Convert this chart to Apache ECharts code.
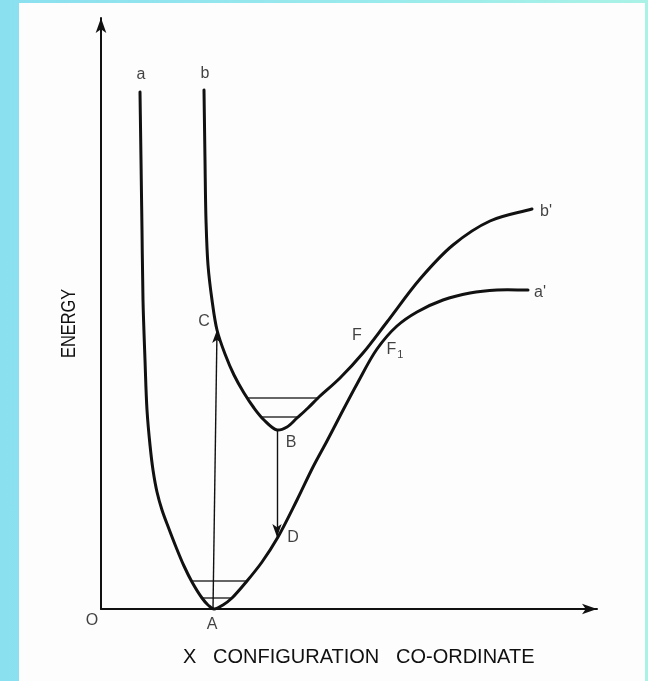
<!DOCTYPE html>
<html>
<head>
<meta charset="utf-8">
<script src="https://cdn.jsdelivr.net/npm/echarts@6/dist/echarts.min.js"></script>
<style>
  html, body { margin: 0; padding: 0; }
  body {
    width: 648px; height: 681px; position: relative; overflow: hidden;
    background: linear-gradient(90deg, #8be0f0 0%, #9aebec 60%, #aaf2e6 100%);
  }
  #paper { position: absolute; left: 19px; top: 3px; width: 626px; height: 678px; background: #fdfdfd; }
  #chart { position: absolute; left: 0; top: 0; width: 648px; height: 681px; }
</style>
</head>
<body>
<div id="paper"></div>
<div id="chart"></div>
<script>
// Potential-energy curves against configuration co-ordinate (arbitrary units).
// Ground state curve a -> a'
const groundX = [39, 40, 41, 42, 44, 46, 49, 52, 56, 61, 68, 75, 83, 91, 101, 107, 113, 122, 131, 146, 161, 177, 196, 212, 226, 239, 256, 276, 296, 316, 342, 369, 396, 427];
const groundE = [517, 449, 379, 309, 249, 199, 164, 139, 117, 99, 80, 62, 43, 27, 11, 4, 0, 4, 11, 28, 47, 72, 109, 142, 168, 193, 225, 260, 283, 297, 309, 316, 319, 319];

// Excited state curve b -> b'
const excitedX = [103, 104, 105, 107, 111, 116, 124, 133, 143, 153, 163, 176, 186, 196, 207, 217, 239, 262, 286, 319, 352, 389, 431];
const excitedE = [519, 449, 389, 344, 309, 279, 255, 234, 216, 201, 189, 179, 182, 191, 201, 211, 231, 256, 287, 330, 364, 388, 400];

// Vibrational levels: [xStart, xEnd, energy]
const groundLevels = [[91, 146, 28], [101, 131, 11]];
const excitedLevels = [[146, 217, 211], [160, 196, 192]];

// Transitions: absorption A -> C, emission B -> D  ([x0, e0, x1, e1])
const absorption = [112, 0, 116, 279];
const emission = [176, 179, 176, 72];

// Point annotations
const labelText = ['a', 'b', 'C', 'A', 'B', 'D', 'F', 'F1', "b'", "a'", 'O'];
const labelX = [40, 104, 103, 111, 190, 192, 256, 294, 445, 439, -9];
const labelE = [534, 535, 287, -16, 166, 71, 273, 259, 397, 316, -12];

const FONT = '"Liberation Sans", Arial, sans-serif';
const INK = '#111';

// Centripetal Catmull-Rom spline through pixel points, as SVG path data
function splinePath(pts) {
  const n = pts.length;
  const P = (i) => {
    if (i < 0) return [2 * pts[0][0] - pts[1][0], 2 * pts[0][1] - pts[1][1]];
    if (i >= n) return [2 * pts[n - 1][0] - pts[n - 2][0], 2 * pts[n - 1][1] - pts[n - 2][1]];
    return pts[i];
  };
  const dist = (a, b) => Math.pow(Math.hypot(b[0] - a[0], b[1] - a[1]), 0.5) || 1e-6;
  let d = 'M' + pts[0][0] + ' ' + pts[0][1];
  for (let i = 0; i < n - 1; i++) {
    const p0 = P(i - 1), p1 = P(i), p2 = P(i + 1), p3 = P(i + 2);
    const d1 = dist(p0, p1), d2 = dist(p1, p2), d3 = dist(p2, p3);
    const c1 = [0, 1].map((k) => (d1 * d1 * p2[k] - d2 * d2 * p0[k] + (2 * d1 * d1 + 3 * d1 * d2 + d2 * d2) * p1[k]) / (3 * d1 * (d1 + d2)));
    const c2 = [0, 1].map((k) => (d3 * d3 * p1[k] - d2 * d2 * p3[k] + (2 * d3 * d3 + 3 * d3 * d2 + d2 * d2) * p2[k]) / (3 * d3 * (d3 + d2)));
    d += ' C' + c1[0] + ' ' + c1[1] + ' ' + c2[0] + ' ' + c2[1] + ' ' + p2[0] + ' ' + p2[1];
  }
  return d;
}

function curveSeries(name, xs, es) {
  return {
    name: name,
    type: 'custom',
    coordinateSystem: 'cartesian2d',
    data: [[xs[0], es[0]]],
    silent: true,
    z: 3,
    renderItem: function (params, api) {
      const pts = xs.map((x, i) => api.coord([x, es[i]]));
      return {
        type: 'path',
        shape: { pathData: splinePath(pts) },
        style: { fill: 'none', stroke: INK, lineWidth: 3, lineJoin: 'round', lineCap: 'round' }
      };
    }
  };
}

const levelSeries = groundLevels.concat(excitedLevels).map((lv) => ({
  type: 'line',
  data: [[lv[0], lv[2]], [lv[1], lv[2]]],
  symbol: 'none',
  lineStyle: { color: '#333', width: 1.3 },
  silent: true,
  z: 2
}));

const labelData = labelText.map((t, i) => {
  const item = { name: t, value: [labelX[i], labelE[i]] };
  if (t === 'F1') {
    item.label = { formatter: '{m|F}{s|1}' };
  }
  return item;
});

const chart = echarts.init(document.getElementById('chart'), null, { renderer: 'canvas' });
chart.setOption({
  animation: false,
  backgroundColor: 'transparent',
  grid: { left: 101, right: 51, top: 18, bottom: 72 },
  xAxis: {
    type: 'value', min: 0, max: 496,
    axisLine: { show: true, onZero: false, symbol: ['none', 'arrow'], symbolSize: [8, 15], lineStyle: { color: INK, width: 2 } },
    axisTick: { show: false }, axisLabel: { show: false }, splitLine: { show: false }
  },
  yAxis: {
    type: 'value', min: 0, max: 591,
    axisLine: { show: true, onZero: false, symbol: ['none', 'arrow'], symbolSize: [8, 15], lineStyle: { color: INK, width: 2 } },
    axisTick: { show: false }, axisLabel: { show: false }, splitLine: { show: false }
  },
  graphic: [
    {
      type: 'text', left: 183, top: 647,
      style: { text: 'X   CONFIGURATION   CO-ORDINATE', font: '20px ' + FONT, fill: INK }
    },
    {
      type: 'text', x: 59, y: 358, rotation: Math.PI / 2, scaleX: 0.82,
      style: { text: 'ENERGY', font: '20px ' + FONT, fill: INK, align: 'left', verticalAlign: 'top' }
    }
  ],
  series: [
    curveSeries('a', groundX, groundE),
    curveSeries('b', excitedX, excitedE),
    ...levelSeries,
    {
      name: 'transitions',
      type: 'line',
      data: [],
      markLine: {
        silent: true,
        symbol: ['none', 'arrow'],
        symbolSize: [7, 13],
        label: { show: false },
        lineStyle: { color: INK, width: 1.4, type: 'solid' },
        data: [
          [{ coord: [absorption[0], absorption[1]] }, { coord: [absorption[2], absorption[3]] }],
          [{ coord: [emission[0], emission[1]] }, { coord: [emission[2], emission[3]] }]
        ]
      }
    },
    {
      name: 'labels',
      type: 'scatter',
      clip: false,
      symbolSize: 0,
      data: labelData,
      silent: true,
      label: {
        show: true,
        position: 'inside',
        formatter: '{b}',
        color: INK,
        fontFamily: FONT,
        fontSize: 16,
        rich: {
          m: { fontFamily: FONT, fontSize: 16, color: INK },
          s: { fontFamily: FONT, fontSize: 11, color: INK, padding: [10, 0, 0, 1] }
        }
      },
      z: 5
    }
  ]
});
</script>
</body>
</html>
